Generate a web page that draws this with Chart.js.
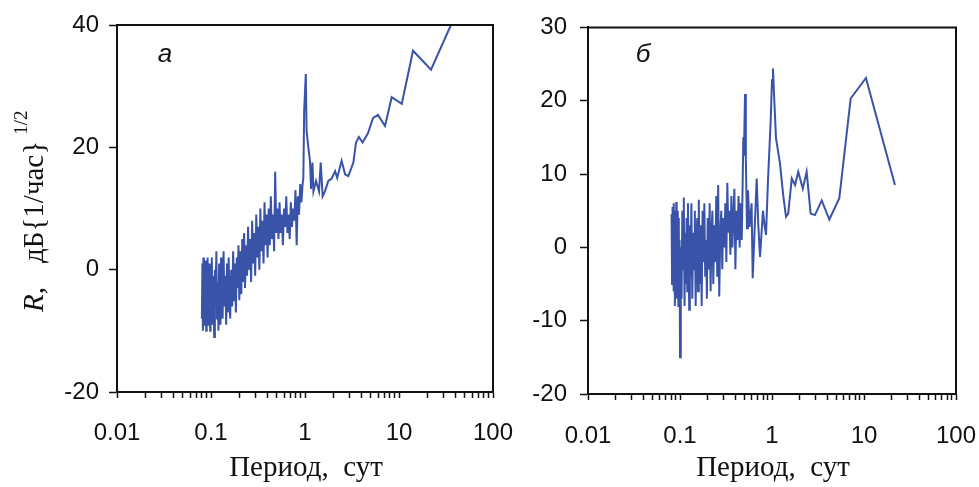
<!DOCTYPE html>
<html>
<head>
<meta charset="utf-8">
<script src="https://cdn.jsdelivr.net/npm/chart.js@4.4.1/dist/chart.umd.min.js"></script>
<style>
  html, body { margin: 0; padding: 0; background: #fff; }
  #wrap { position: relative; width: 979px; height: 487px; }
  canvas { position: absolute; left: 0; top: 0; }
</style>
</head>
<body>
<div id="wrap">
  <canvas id="chartA" width="979" height="487"></canvas>
  <canvas id="chartB" width="979" height="487"></canvas>
</div>
<script>
// Панель а: период (сут) и R (дБ)
const periodA = [
  0.080, 0.081, 0.082, 0.083, 0.084, 0.085, 0.086, 0.087, 0.088, 0.089,
  0.090, 0.091, 0.092, 0.093, 0.094, 0.095, 0.096, 0.097, 0.098, 0.099,
  0.100, 0.102, 0.104, 0.106, 0.108, 0.110, 0.112, 0.114, 0.116, 0.118,
  0.120, 0.122, 0.124, 0.126, 0.128, 0.130,
  0.133, 0.136, 0.139, 0.142, 0.145, 0.148, 0.151, 0.154, 0.157, 0.160,
  0.164, 0.168, 0.172, 0.176, 0.180, 0.184, 0.188, 0.192, 0.196, 0.200,
  0.205, 0.210, 0.215, 0.220, 0.225, 0.230,
  0.236, 0.242, 0.248, 0.254, 0.260,
  0.267, 0.274, 0.281, 0.288, 0.295,
  0.303, 0.311, 0.319, 0.327, 0.335,
  0.344, 0.353, 0.362, 0.371, 0.380,
  0.390, 0.400,
  0.411, 0.422, 0.433, 0.445,
  0.457, 0.469, 0.482, 0.495, 0.508,
  0.522, 0.536, 0.551, 0.566,
  0.582, 0.598, 0.615, 0.632,
  0.650, 0.668, 0.687, 0.707,
  0.727, 0.748, 0.770,
  0.792, 0.815, 0.839,
  0.864, 0.890, 0.916, 0.943,
  0.960,
  0.98, 1.02, 1.04, 1.085, 1.13, 1.16, 1.20, 1.23, 1.31, 1.41,
  1.47, 1.54, 1.63, 1.77, 1.92, 2.09, 2.2, 2.45, 2.67, 2.89,
  3.27, 3.49, 3.74, 4.1, 4.67, 5.3, 5.98, 7.1, 8.36, 10.7,
  14.1, 21.9, 35.7
];
const valueA = [
  -8, 1, -10, 2, -6, -9, 0, -7, 1.5, -10,
  -2, -5, 2, -9, -3, -8, 1, -6, -10, 0,
  -7, 2, -9, -1, -11, 0, -5, 3, -8, -2,
  -10, 1, -6, -9, 2, -4,
  -8, 3, -6, -1, -9, 1, -7, 2, -4, -8,
  0, -6, 3, -5, 1, -7, 2, -3, 4, -5,
  3, -4, 5, -2, 6, -3,
  4, -1, 7, 0, 5,
  -2, 8, 1, 6, -1,
  9, 2, 7, 0, 10,
  3, 8, 1, 11, 4,
  9, 2,
  10, 4, 12, 5,
  9, 3, 16, 6, 10,
  5, 11, 6, 9,
  4, 10, 7, 12,
  6, 9, 5, 11,
  7, 10, 8,
  13, 4, 12,
  9, 14, 11, 14,
  15,
  26, 32, 22.7, 20, 17.8, 13.2, 17.5, 12.8, 14.5, 12.8,
  17.5, 12, 12.8, 14.5, 14.9, 16.1, 15, 17.8, 15.6, 15.3,
  17.5, 20.8, 21.7, 20.8, 22.3, 24.8, 25.3, 23.5, 28.2, 27.1,
  35.8, 32.7, 40
];

// Панель б
const periodB = [
  0.081, 0.082, 0.083, 0.084, 0.085, 0.086, 0.087, 0.088, 0.089, 0.090,
  0.091, 0.092, 0.093, 0.094, 0.095, 0.096, 0.097, 0.098, 0.099,
  0.100, 0.102, 0.104, 0.106, 0.108, 0.110, 0.112, 0.114, 0.116, 0.118,
  0.120, 0.122, 0.124, 0.126, 0.128, 0.130,
  0.133, 0.136, 0.139, 0.142, 0.145, 0.148, 0.151, 0.154, 0.157, 0.160,
  0.164, 0.168, 0.172, 0.176, 0.180, 0.184, 0.188, 0.192, 0.196, 0.200,
  0.205, 0.210, 0.215, 0.220, 0.225, 0.230,
  0.236, 0.242, 0.248, 0.254, 0.260,
  0.267, 0.274, 0.281, 0.288, 0.295,
  0.303, 0.311, 0.319, 0.327, 0.335,
  0.344, 0.353, 0.362, 0.371, 0.380,
  0.390, 0.400,
  0.411, 0.422, 0.433, 0.445,
  0.457, 0.469, 0.480,
  0.488, 0.495, 0.509, 0.52, 0.535, 0.548, 0.57, 0.60, 0.617, 0.65,
  0.682, 0.71, 0.741, 0.77, 0.798, 0.83, 0.861, 0.905, 0.968, 1.0,
  1.025, 1.06, 1.105, 1.22, 1.33, 1.42, 1.50, 1.64, 1.78, 1.93,
  2.16, 2.38, 2.63, 2.93, 3.47, 4.20, 5.39, 7.16, 10.5, 21.7
];
const valueB = [
  4.5, -5, 5.5, -2, 6, -6, 3, -8, 5, -4,
  6.2, -7, 2, -3, 5, -8, 4, -6, 1,
  -15, 0, -7, 5, -3, 6.8, -8, 2, -5, 4,
  -6, 6, -2, -8.5, 3, -4,
  6, -7, 2, -3, 5, -8, 1, 4, -6, 6.5,
  -5, 3, -8, 5, -2, 6, -4, 1, -7, 4,
  -3, 6, -6, 2, 5, -5,
  3, -2, 7, -4, 8.5,
  -6.7, 2, 5, -3, 4,
  0, 6, -2, 8.8, 2,
  5, -1, 7, 0, 4,
  8, -3,
  5, 1, 7, 0,
  6, 1, 9,
  15, 12.5, 20.9, 12, 2.6, 7.8, 2.8, 6, -4.2, 3,
  9.4, 3, -1.3, 2, 5, 3, 1.7, 9.2, 17.3, 22.8,
  24.4, 20, 14.9, 11.5, 6.9, 4.2, 4.6, 9.4, 8.5, 10.3,
  8.0, 10.3, 4.6, 4.4, 6.4, 3.8, 6.7, 20.3, 23.1, 8.5
];

const xTicks = [0.01, 0.1, 1, 10, 100];
const xTickLabels = ['0.01', '0.1', '1', '10', '100'];
const xTitle = 'Период,  сут';

const lineColor = '#3953a8';
const ink = '#111';

function decadeIndex(v) {
  return xTicks.findIndex(t => Math.abs(v / t - 1) < 1e-6);
}

function decor(panelLabel, labelX, titleX, withYTitle) {
  return {
    id: 'decor',
    afterDraw(chart) {
      const { ctx, chartArea: a } = chart;
      ctx.save();
      ctx.strokeStyle = ink;
      ctx.lineWidth = 2;
      ctx.beginPath();
      ctx.moveTo(a.left, a.top);
      ctx.lineTo(a.right, a.top);
      ctx.lineTo(a.right, a.bottom);
      ctx.stroke();

      ctx.fillStyle = ink;
      ctx.textAlign = 'center';
      ctx.textBaseline = 'alphabetic';
      ctx.font = 'italic 26px "Liberation Sans"';
      ctx.fillText(panelLabel, labelX, 62);
      ctx.font = '29px "Liberation Serif"';
      ctx.fillText(xTitle, titleX, 476);

      if (withYTitle) {
        ctx.translate(43, 312);
        ctx.rotate(-Math.PI / 2);
        ctx.textAlign = 'left';
        ctx.font = 'italic 29px "Liberation Serif"';
        ctx.fillText('R,', 0, 0);
        ctx.font = '29px "Liberation Serif"';
        ctx.fillText('дБ{1/час}', 49, 0);
        const w = ctx.measureText('дБ{1/час}').width;
        ctx.font = '19px "Liberation Serif"';
        ctx.fillText('1/2', 49 + w + 6, -16);
      }
      ctx.restore();
    }
  };
}

function makeChart(id, periods, values, box, yMin, yMax, yStep, panel) {
  return new Chart(document.getElementById(id), {
    type: 'line',
    data: {
      datasets: [{
        data: periods.map((p, i) => ({ x: p, y: values[i] })),
        borderColor: lineColor,
        borderWidth: 2,
        pointRadius: 0,
        tension: 0,
        fill: false
      }]
    },
    options: {
      responsive: false,
      animation: false,
      events: [],
      layout: {
        padding: { left: 0, top: box.top, right: 979 - box.right, bottom: 0 }
      },
      plugins: { legend: { display: false }, tooltip: { enabled: false } },
      scales: {
        x: {
          type: 'logarithmic',
          min: 0.01,
          max: 100,
          afterFit: s => {
            s.height = 487 - box.bottom;
            s.paddingLeft = 0;
            s.paddingRight = 0;
          },
          afterBuildTicks: s => {
            // только 1..9 в каждой декаде
            s.ticks = s.ticks.filter(t => {
              const m = t.value / Math.pow(10, Math.floor(Math.log10(t.value) + 1e-9));
              return Math.abs(m - Math.round(m)) < 1e-6;
            });
          },
          border: { display: true, color: ink, width: 2 },
          grid: { drawOnChartArea: false, drawTicks: true, tickLength: 6, tickColor: ink, tickWidth: 1.5 },
          ticks: {
            autoSkip: false,
            maxRotation: 0,
            padding: box.xPad,
            color: ink,
            font: { family: 'Liberation Sans', size: 24 },
            callback: v => {
              const i = decadeIndex(v);
              return i >= 0 ? xTickLabels[i] : '';
            }
          }
        },
        y: {
          min: yMin,
          max: yMax,
          afterFit: s => { s.width = box.left; },
          border: { display: true, color: ink, width: 2 },
          grid: { drawOnChartArea: false, drawTicks: true, tickLength: 8, tickColor: ink, tickWidth: 1.5 },
          ticks: {
            stepSize: yStep,
            padding: box.yPad,
            color: ink,
            font: { family: 'Liberation Sans', size: 24 }
          }
        }
      }
    },
    plugins: [panel]
  });
}

makeChart('chartA', periodA, valueA,
  { left: 117, right: 493, top: 25, bottom: 392, xPad: 21, yPad: 10 },
  -20, 40, 20, decor('а', 165, 306, true));

makeChart('chartB', periodB, valueB,
  { left: 588, right: 956, top: 27, bottom: 394, xPad: 22, yPad: 13 },
  -20, 30, 10, decor('б', 643, 773, false));
</script>
</body>
</html>
